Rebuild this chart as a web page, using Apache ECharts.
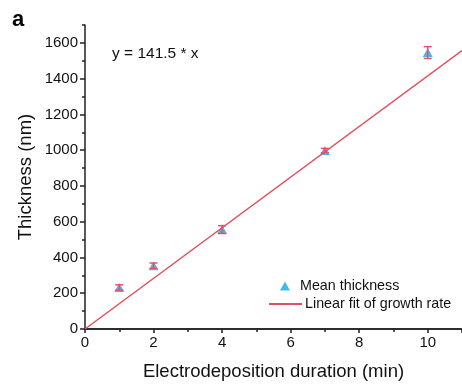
<!DOCTYPE html>
<html><head><meta charset="utf-8">
<script src="https://cdn.jsdelivr.net/npm/echarts@6/dist/echarts.min.js"></script>
<style>html,body{margin:0;padding:0;background:#fff}#c{width:462px;height:389px}</style>
</head><body><div id="c"></div>
<script>
const durations = [1, 2, 4, 7, 10];
const thickness = [232, 354, 556, 998, 1546];
const errors = [15, 15, 22, 12, 33];
const slope = 141.5;
const fitX = [0, 11];
const yTicks = [0, 200, 400, 600, 800, 1000, 1200, 1400, 1600];

const font = 'Liberation Sans, Arial, sans-serif';
const chart = echarts.init(document.getElementById('c'), null, {renderer: 'canvas'});
const points = durations.map((d, i) => [d, thickness[i]]);
const errData = durations.map((d, i) => [d, thickness[i] - errors[i], thickness[i] + errors[i]]);
const fitData = fitX.map(x => [x, slope * x]);

chart.setOption({
  animation: false,
  grid: {left: 85, right: 0, top: 25, bottom: 60},
  xAxis: [{
    type: 'value', min: 0, max: 11, interval: 2,
    name: 'Electrodeposition duration (min)', nameLocation: 'middle', nameGap: 33,
    nameTextStyle: {fontFamily: font, fontSize: 18.5, color: '#111'},
    axisLine: {show: true, onZero: false, lineStyle: {color: '#222', width: 1.5}},
    axisTick: {show: true, length: 4, lineStyle: {color: '#222', width: 1.5}},
    minorTick: {show: true, splitNumber: 2, length: 3, lineStyle: {color: '#222', width: 1.5}},
    axisLabel: {fontFamily: font, fontSize: 15, color: '#111', margin: 6, showMaxLabel: false},
    splitLine: {show: false}
  }, {
    type: 'value', position: 'top', min: 0, max: 11,
    axisLine: {show: true, lineStyle: {color: '#222', width: 1.5}},
    axisTick: {show: false}, axisLabel: {show: false}, splitLine: {show: false}
  }],
  yAxis: [{
    type: 'value', min: 0, max: 1700, interval: 100,
    name: 'Thickness (nm)', nameLocation: 'middle', nameGap: 50, nameMoveOverlap: false,
    nameTextStyle: {fontFamily: font, fontSize: 18.5, color: '#111'},
    axisLine: {show: true, onZero: false, lineStyle: {color: '#222', width: 1.5}},
    axisTick: {show: true, length: 3, lineStyle: {color: '#222', width: 1.5}},
    axisLabel: {fontFamily: font, fontSize: 15, color: '#111', margin: 7,
      formatter: v => (yTicks.indexOf(v) >= 0 ? String(v) : '')},
    splitLine: {show: false}
  }, {
    type: 'value', min: 0, max: 1700, position: 'left',
    axisLine: {show: false},
    axisTick: {show: true, length: 5, customValues: yTicks, lineStyle: {color: '#222', width: 1.5}},
    axisLabel: {show: false}, splitLine: {show: false}
  }],
  legend: [{
    left: 275, top: 274, itemWidth: 10, itemHeight: 9, itemGap: 0,
    textStyle: {fontFamily: font, fontSize: 14.3, color: '#111', padding: [0, 0, 0, 5]},
    data: [{name: 'Mean thickness', icon: 'triangle'}]
  }, {
    left: 264, top: 292, itemWidth: 33, itemHeight: 2, itemGap: 0,
    textStyle: {fontFamily: font, fontSize: 14.3, color: '#111', padding: [0, 0, 0, -2]},
    data: [{name: 'Linear fit of growth rate', icon: 'rect'}]
  }],
  graphic: [
    {type: 'text', left: 12, top: 9, style: {text: 'a', font: 'bold 22px ' + font, fill: '#000'}},
    {type: 'text', left: 112, top: 46, style: {text: 'y = 141.5 * x', font: '15.5px ' + font, fill: '#111'}}
  ],
  series: [{
    name: 'Linear fit of growth rate', type: 'line', data: fitData,
    symbol: 'none', showSymbol: false, lineStyle: {color: '#e0505f', width: 1.5}, itemStyle: {color: '#e0505f'}, z: 3
  }, {
    name: 'Mean thickness', type: 'scatter', data: points,
    symbol: 'triangle', symbolSize: [10, 9], itemStyle: {color: '#14a9e6'}, z: 2
  }, {
    name: 'err', type: 'custom', data: errData, z: 4,
    renderItem: function (params, api) {
      const x = api.value(0);
      const lo = api.coord([x, api.value(1)]);
      const hi = api.coord([x, api.value(2)]);
      const w = 4;
      const st = {stroke: '#e8506a', lineWidth: 1.5};
      return {type: 'group', children: [
        {type: 'line', shape: {x1: lo[0], y1: lo[1], x2: hi[0], y2: hi[1]}, style: st},
        {type: 'line', shape: {x1: lo[0] - w, y1: lo[1], x2: lo[0] + w, y2: lo[1]}, style: st},
        {type: 'line', shape: {x1: hi[0] - w, y1: hi[1], x2: hi[0] + w, y2: hi[1]}, style: st}
      ]};
    }
  }]
});
</script></body></html>
